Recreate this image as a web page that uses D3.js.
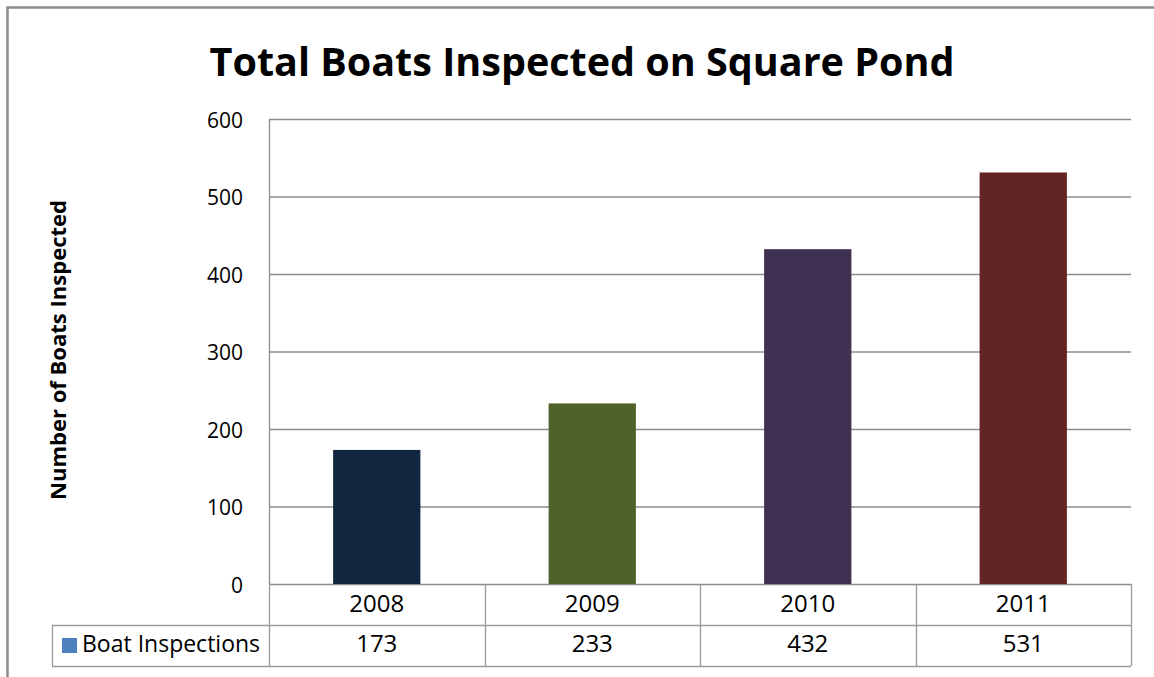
<!DOCTYPE html>
<html>
<head>
<meta charset="utf-8">
<script src="https://cdn.jsdelivr.net/npm/d3@7"></script>
<style>
  html, body { margin: 0; padding: 0; background: #fff; }
  svg text { font-family: "Open Sans", "Liberation Sans", sans-serif; fill: #000; }
</style>
</head>
<body>
<svg id="chart" width="1154" height="677"></svg>
<script>
// Boat inspections per year on Square Pond
const years = ["2008", "2009", "2010", "2011"];
const inspections = [173, 233, 432, 531];
const barColors = ["#13263f", "#4f6228", "#3f3151", "#632523"];
const yTicks = [0, 100, 200, 300, 400, 500, 600];
const seriesName = "Boat Inspections";
const legendColor = "#4f81bd";

const svg = d3.select("#chart");
const W = 1154, H = 677;
const plot = { left: 269, right: 1131, top: 119, bottom: 584 };
const rowH = 41;

// outer frame (top and left edges)
svg.append("path")
  .attr("d", `M7.5,${H} V7.5 H${W}`)
  .attr("fill", "none").attr("stroke", "#8c8c8c").attr("stroke-width", 2.5);

const x = d3.scaleBand().domain(years).range([plot.left, plot.right]).paddingInner(0).paddingOuter(0);
const y = d3.scaleLinear().domain([0, 600]).range([plot.bottom, plot.top]);

// gridlines
svg.append("g").selectAll("line").data(yTicks).join("line")
  .attr("x1", plot.left).attr("x2", plot.right)
  .attr("y1", d => y(d) + 0.5).attr("y2", d => y(d) + 0.5)
  .attr("stroke", "#8c8c8c").attr("stroke-width", 1.3);
svg.append("line")
  .attr("x1", plot.left + 0.5).attr("x2", plot.left + 0.5)
  .attr("y1", plot.top).attr("y2", plot.bottom)
  .attr("stroke", "#8c8c8c").attr("stroke-width", 1.3);

// y axis tick labels
const yAxis = d3.axisLeft(y).tickValues(yTicks).tickSize(0).tickPadding(26);
const gy = svg.append("g").attr("transform", `translate(${plot.left},0)`).call(yAxis);
gy.select(".domain").remove();
gy.selectAll("text")
  .attr("font-size", 21).attr("font-family", "Open Sans, sans-serif")
  .attr("fill", "#000").attr("dy", "8px");

// bars
const barW = x.bandwidth() * 0.405;
svg.append("g").selectAll("rect").data(inspections).join("rect")
  .attr("x", (d, i) => x(years[i]) + (x.bandwidth() - barW) / 2)
  .attr("y", d => y(d))
  .attr("width", barW)
  .attr("height", d => y(0) - y(d))
  .attr("fill", (d, i) => barColors[i]);

// data table
const tableTop = plot.bottom, tableBot = plot.bottom + 2 * rowH;
const legendLeft = 52;
const tbl = svg.append("g").attr("stroke", "#9a9a9a").attr("stroke-width", 1.3).attr("fill", "none");
tbl.append("line").attr("x1", legendLeft).attr("x2", plot.right).attr("y1", tableTop + rowH + 0.5).attr("y2", tableTop + rowH + 0.5);
tbl.append("line").attr("x1", legendLeft).attr("x2", plot.right).attr("y1", tableBot + 0.5).attr("y2", tableBot + 0.5);
tbl.append("line").attr("x1", legendLeft + 0.5).attr("x2", legendLeft + 0.5).attr("y1", tableTop + rowH).attr("y2", tableBot);
const colEdges = years.map(d => x(d)).concat([plot.right]);
tbl.selectAll(".v").data(colEdges).join("line")
  .attr("x1", d => Math.round(d) + 0.5).attr("x2", d => Math.round(d) + 0.5)
  .attr("y1", tableTop).attr("y2", tableBot);

// category labels
svg.append("g").selectAll("text").data(years).join("text")
  .attr("x", d => x(d) + x.bandwidth() / 2)
  .attr("y", tableTop + 28)
  .attr("text-anchor", "middle").attr("font-size", 24)
  .text(d => d);

// value labels
svg.append("g").selectAll("text").data(inspections).join("text")
  .attr("x", (d, i) => x(years[i]) + x.bandwidth() / 2)
  .attr("y", tableTop + rowH + 27)
  .attr("text-anchor", "middle").attr("font-size", 24)
  .text(d => d);

// legend key in table
svg.append("rect").attr("x", 62).attr("y", tableTop + rowH + 13).attr("width", 15).attr("height", 15).attr("fill", legendColor);
svg.append("text").attr("x", 82).attr("y", tableTop + rowH + 27).attr("font-size", 23).text(seriesName);

// title, sized to span its line
const title = svg.append("text").attr("x", 582).attr("y", 76).attr("text-anchor", "middle")
  .attr("font-family", "Lato, 'Open Sans', sans-serif")
  .attr("font-size", 46).attr("font-weight", "bold").text("Total Boats Inspected on Square Pond");
const tw = title.node().getComputedTextLength();
title.attr("font-size", 46 * 745 / tw);

// y axis title
const ytitle = svg.append("text").attr("transform", "translate(66,350) rotate(-90)")
  .attr("text-anchor", "middle").attr("font-size", 22).attr("font-weight", "bold")
  .attr("font-family", "Lato, 'Open Sans', sans-serif")
  .text("Number of Boats Inspected");
const yw = ytitle.node().getComputedTextLength();
ytitle.attr("font-size", 22 * 300 / yw);
</script>
</body>
</html>
